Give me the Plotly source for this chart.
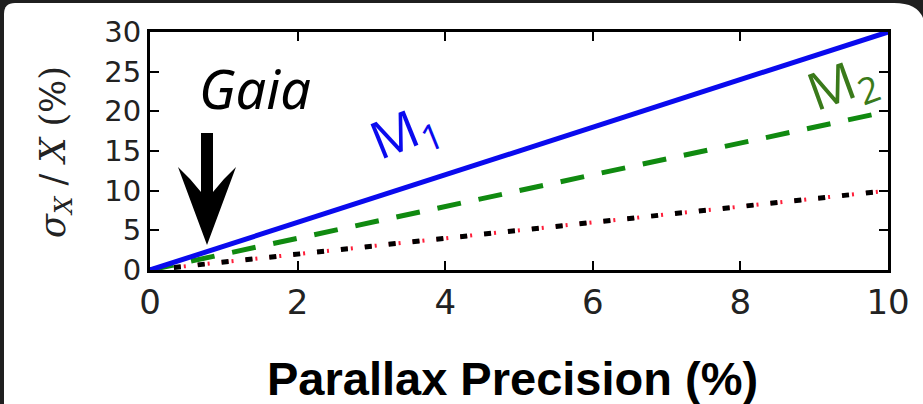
import plotly.graph_objects as go

# Fractional uncertainty of derived quantity X versus parallax precision
parallax_precision = [0, 10]          # %
m1_error = [0, 30]                    # sigma_X / X (%), scales as 3x
m2_error = [0, 20]                    # scales as 2x
m3_error = [0, 10]                    # scales as 1x
x_ticks = [0, 2, 4, 6, 8, 10]
y_ticks = [0, 5, 10, 15, 20, 25, 30]

W, H = 923, 404
L, R, T, B = 150, 35, 32, 134
PW, PH = W - L - R, H - T - B


def px(x):
    return (x - L) / PW


def py(y):
    return (H - B - y) / PH


fig = go.Figure()

fig.add_trace(go.Scatter(x=parallax_precision, y=m3_error, mode="lines",
                         line=dict(color="#ff1f3a", width=4, dash="2px,3px,2px,3px,2px,12px"),
                         showlegend=False))
fig.add_trace(go.Scatter(x=parallax_precision, y=m3_error, mode="lines",
                         line=dict(color="black", width=5, dash="7px,17px"),
                         showlegend=False))
fig.add_trace(go.Scatter(x=parallax_precision, y=m2_error, mode="lines",
                         line=dict(color="#108a10", width=5, dash="24px,18px"),
                         showlegend=False))
fig.add_trace(go.Scatter(x=parallax_precision, y=m1_error, mode="lines",
                         line=dict(color="#0a0aee", width=5),
                         showlegend=False))

# white rounded card behind the figure
card = (f"M {px(4)},{py(420)} L {px(4)},{py(14)} Q {px(4)},{py(3)} {px(15)},{py(3)} "
        f"L {px(894)},{py(3)} Q {px(925)},{py(3)} {px(925)},{py(30)} "
        f"L {px(925)},{py(420)} Z")

# thick downward arrow marking the Gaia precision
arrow = (f"M {px(201)},{py(133)} L {px(213)},{py(133)} L {px(213)},{py(192)} "
         f"Q {px(224)},{py(178)} {px(236)},{py(167)} L {px(207)},{py(245)} "
         f"L {px(178)},{py(167)} Q {px(190)},{py(178)} {px(201)},{py(192)} Z")


def label(text, x, y, size, color, family, angle=0):
    return dict(text=text, x=px(x), y=py(y), xref="paper", yref="paper",
                showarrow=False, textangle=angle,
                xanchor="center", yanchor="middle",
                font=dict(family=family, size=size, color=color))


fig.update_layout(
    width=W, height=H,
    margin=dict(l=L, r=R, t=T, b=B),
    paper_bgcolor="#1f1f1f",
    plot_bgcolor="rgba(0,0,0,0)",
    shapes=[
        dict(type="path", path=card, xref="paper", yref="paper",
             fillcolor="white", line=dict(width=0), layer="below"),
        dict(type="path", path=arrow, xref="paper", yref="paper",
             fillcolor="black", line=dict(width=0), layer="above"),
    ],
    annotations=[
        label("<i>Gaia</i>", 255, 88, 54, "black", "Noto Sans"),
        label("M<sub>1</sub>", 405, 132, 52, "#0a0aee", "Open Sans", -22),
        label("M<sub>2</sub>", 842, 84, 52, "#3a7a1a", "Open Sans", -20),
        label("<i>σ</i><sub><i>X</i></sub> / <i>X</i> (%)", 55, 152, 35, "#222",
              "DejaVu Serif", -90),
        label("<b>Parallax Precision (%)</b>", 512, 378, 47, "black",
              "Liberation Sans"),
    ],
)

fig.update_xaxes(range=[0, 10], tickvals=x_ticks, ticktext=[str(v) for v in x_ticks],
                 showgrid=False, zeroline=False,
                 showline=True, linecolor="black", linewidth=3, mirror="ticks",
                 ticks="inside", ticklen=9, tickwidth=2, tickcolor="black",
                 tickfont=dict(family="DejaVu Sans", size=34, color="#222"))
fig.update_yaxes(range=[0, 30], tickvals=y_ticks, ticktext=[str(v) for v in y_ticks],
                 showgrid=False, zeroline=False,
                 showline=True, linecolor="black", linewidth=3, mirror="ticks",
                 ticks="inside", ticklen=9, tickwidth=2, tickcolor="black",
                 tickfont=dict(family="DejaVu Sans", size=29, color="#222"))

fig.write_html("out.html")
